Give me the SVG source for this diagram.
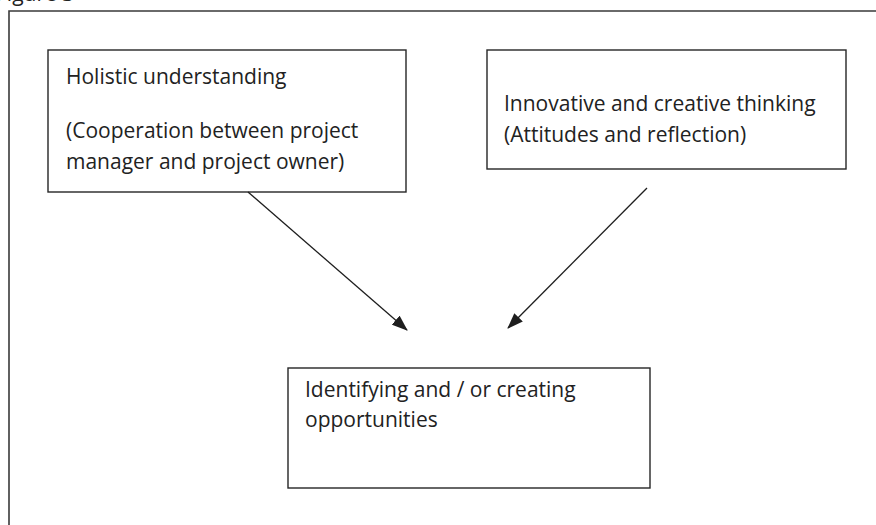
<svg xmlns="http://www.w3.org/2000/svg" width="876" height="525" viewBox="0 0 876 525">
<style>
.box{fill:#fff;stroke:#262626;stroke-width:1.4}
.t{font-family:"Open Sans","Noto Sans","Liberation Sans",sans-serif;font-size:21px;fill:#222}
.frame{fill:none;stroke:#3a3a3a;stroke-width:1.6}
.conn{stroke:#1e1e1e;stroke-width:1.3;fill:none}
</style>
<defs>
<marker id="ah" markerWidth="16" markerHeight="12" refX="15" refY="6" orient="auto" markerUnits="userSpaceOnUse">
<path d="M0,0 L16,6 L0,12 Z" fill="#1e1e1e"/>
</marker>
</defs>
<rect width="876" height="525" fill="#fff"/>
<text class="t" x="-4" y="1" fill="#555">Figure 3</text>
<path class="frame" d="M9,525 V11 H876"/>
<g id="holistic">
<rect class="box" x="48" y="50" width="358" height="142"/>
<text class="t" x="66" y="84">Holistic understanding</text>
<text class="t" x="66" y="138">(Cooperation between project</text>
<text class="t" x="66" y="169">manager and project owner)</text>
</g>
<g id="innovative">
<rect class="box" x="487" y="50" width="359" height="119"/>
<text class="t" x="504" y="111">Innovative and creative thinking</text>
<text class="t" x="504" y="142">(Attitudes and reflection)</text>
</g>
<g id="opportunities">
<rect class="box" x="288" y="368" width="362" height="120"/>
<text class="t" x="305" y="397">Identifying and / or creating</text>
<text class="t" x="305" y="427">opportunities</text>
</g>
<g id="connectors">
<line class="conn" x1="248" y1="192" x2="407" y2="330" marker-end="url(#ah)"/>
<line class="conn" x1="647" y1="188" x2="508" y2="328" marker-end="url(#ah)"/>
</g>
</svg>
